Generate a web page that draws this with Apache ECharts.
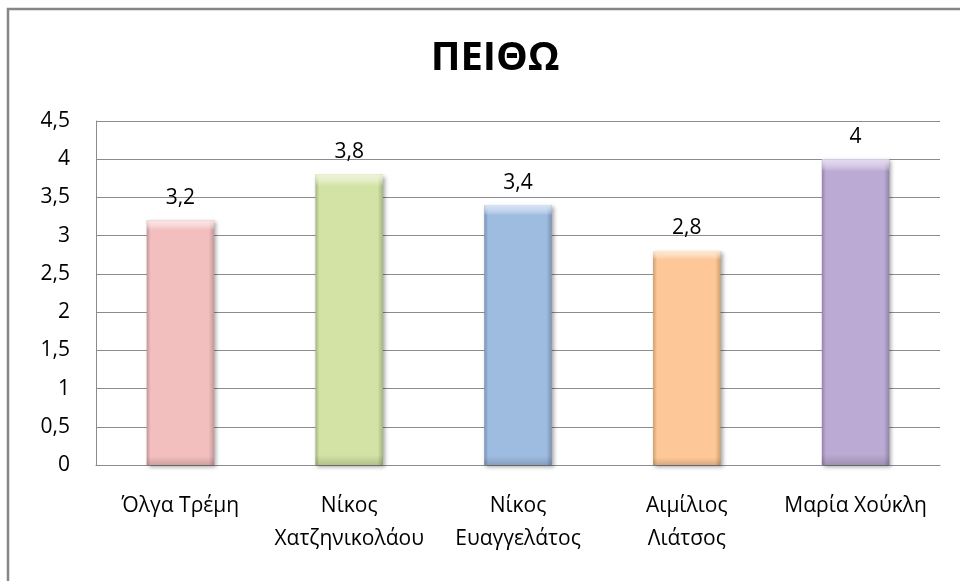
<!DOCTYPE html>
<html>
<head>
<meta charset="utf-8">
<script src="https://cdn.jsdelivr.net/npm/echarts@6/dist/echarts.min.js"></script>
<style>
  html, body { margin: 0; padding: 0; background: #fff; }
  #chart { width: 960px; height: 581px; }
</style>
</head>
<body>
<div id="chart"></div>
<script>
// Persuasion scores per person
const titleText = 'ΠΕΙΘΩ';
const categories = ['Όλγα Τρέμη', 'Νίκος\nΧατζηνικολάου', 'Νίκος\nΕυαγγελάτος', 'Αιμίλιος\nΛιάτσος', 'Μαρία Χούκλη'];
const values = [3.2, 3.8, 3.4, 2.8, 4];
const barColors = ['#F2BEBE', '#D3E3A5', '#9EBBE0', '#FDC797', '#BBAAD3'];
const edgeColors = ['#C49696', '#A6B57F', '#7A92B5', '#CF9F70', '#9383AA'];
const topColors = ['#FBE3E3', '#EBF3D3', '#D3E2F4', '#FFE5CC', '#E3D9F0'];
const yTicks = [0, 0.5, 1, 1.5, 2, 2.5, 3, 3.5, 4, 4.5];

const fmt = v => String(v).replace('.', ',');
const font = '"Open Sans", "DejaVu Sans", sans-serif';

const chart = echarts.init(document.getElementById('chart'), null, { renderer: 'canvas' });

const data = values.map((v, i) => ({
  value: v,
  itemStyle: {
    color: new echarts.graphic.LinearGradient(0, 0, 1, 0, [
      { offset: 0, color: edgeColors[i] },
      { offset: 0.06, color: barColors[i] },
      { offset: 0.92, color: barColors[i] },
      { offset: 1, color: edgeColors[i] }
    ]),
    shadowColor: 'rgba(0,0,0,0.35)',
    shadowBlur: 4,
    shadowOffsetX: 2,
    shadowOffsetY: 2
  }
}));

// soft bevel highlight along the top and shade along the bottom of each bar
const bevel = values.map((v, i) => ({
  value: v,
  itemStyle: {
    color: new echarts.graphic.LinearGradient(0, 0, 0, 1, [
      { offset: 0, color: topColors[i] },
      { offset: 0.04, color: 'rgba(255,255,255,0)' },
      { offset: 0.965, color: 'rgba(0,0,0,0)' },
      { offset: 1, color: 'rgba(0,0,0,0.15)' }
    ])
  }
}));

chart.setOption({
  animation: false,
  backgroundColor: '#fff',
  title: {
    text: titleText,
    left: 490,
    top: 34,
    textAlign: 'center',
    textStyle: { fontFamily: font, fontWeight: 'bold', fontSize: 40, color: '#000' }
  },
  graphic: [{
    type: 'rect',
    shape: { x: 8, y: 9, width: 980, height: 600 },
    style: { fill: 'none', stroke: '#868686', lineWidth: 2.5 },
    silent: true
  }],
  grid: { left: 96, right: 20, top: 121, bottom: 116 },
  xAxis: {
    type: 'category',
    data: categories,
    axisLine: { show: true, lineStyle: { color: '#8c8c8c', width: 1 } },
    axisTick: { show: false },
    axisLabel: {
      interval: 0,
      margin: 25,
      fontFamily: font,
      fontSize: 21,
      lineHeight: 33,
      color: '#000'
    }
  },
  yAxis: {
    type: 'value',
    min: 0,
    max: 4.5,
    interval: 0.5,
    axisLine: { show: true, lineStyle: { color: '#8c8c8c', width: 1 } },
    axisTick: { show: false },
    splitLine: { show: true, lineStyle: { color: '#8c8c8c', width: 1 } },
    axisLabel: {
      margin: 26,
      fontFamily: font,
      fontSize: 21,
      color: '#000',
      formatter: v => yTicks.includes(v) ? fmt(v) : ''
    }
  },
  series: [{
    type: 'bar',
    data: data,
    barCategoryGap: '60%',
    label: {
      show: true,
      position: 'top',
      distance: 12,
      fontFamily: font,
      fontSize: 21,
      color: '#000',
      formatter: p => fmt(p.value)
    }
  }, {
    type: 'bar',
    data: bevel,
    barGap: '-100%',
    barCategoryGap: '60%',
    silent: true
  }]
});
</script>
</body>
</html>
